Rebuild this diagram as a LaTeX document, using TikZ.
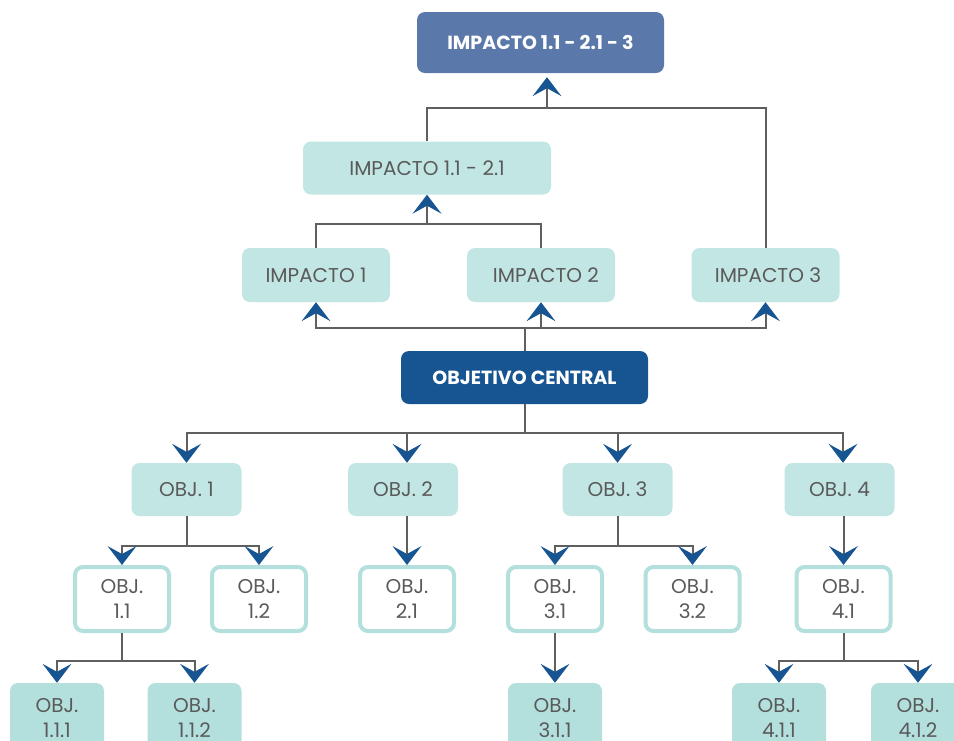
\documentclass[tikz,border=0pt]{standalone}
\usepackage{fontspec}
\setmainfont{Poppins}
\usetikzlibrary{arrows.meta,calc}
\definecolor{topblue}{HTML}{5B78AB}
\definecolor{darkblue}{HTML}{175592}
\definecolor{lightteal}{HTML}{C2E6E3}
\definecolor{leafteal}{HTML}{B3E0DD}
\definecolor{txtgray}{HTML}{5A5A5A}
\definecolor{linegray}{HTML}{5F5F5F}
\tikzset{
  box/.style={rectangle, rounded corners=8pt, inner sep=0pt, align=center,
    font=\fontsize{20}{25}\selectfont, text=txtgray},
  darkbox/.style={box, fill=#1, text=white, font=\fontsize{19}{24}\selectfont\bfseries},
  impbox/.style={box, fill=lightteal, minimum width=148pt, minimum height=54pt},
  objbox/.style={box, fill=lightteal, minimum width=110pt, minimum height=53pt},
  subbox/.style={box, fill=white, draw=leafteal, line width=4pt, minimum width=94pt, minimum height=64pt},
  leafbox/.style={box, fill=leafteal, minimum width=94pt, minimum height=69pt},
  link/.style={draw=linegray, line width=2pt},
  conn/.style={link, -{Stealth[length=19pt, width=29pt, inset=8pt, line width=0pt, color=darkblue]}},
}
\begin{document}
\begin{tikzpicture}[x=1pt, y=-1pt]
\useasboundingbox (0,0) rectangle (954,740);
\clip (0,0) rectangle (954,740);
% nodes
\node[darkbox=topblue, minimum width=247pt, minimum height=61pt] (top) at (540.5,42.5) {IMPACTO 1.1 - 2.1 - 3};
\node[impbox, minimum width=248pt, minimum height=53pt] (i11) at (427,168) {IMPACTO 1.1 - 2.1};
\node[impbox] (i1) at (316,275) {IMPACTO 1};
\node[impbox] (i2) at (541,275) {\hspace{10pt}IMPACTO 2};
\node[impbox] (i3) at (765.5,275) {\hspace{5pt}IMPACTO 3};
\node[darkbox=darkblue, minimum width=247pt, minimum height=53pt] (oc) at (524.5,377.5) {OBJETIVO CENTRAL};
\node[objbox] (o1) at (186.5,489.5) {OBJ. 1};
\node[objbox] (o2) at (403,489.5) {OBJ. 2};
\node[objbox] (o3) at (617.5,489.5) {OBJ. 3};
\node[objbox] (o4) at (839.5,489.5) {OBJ. 4};
\node[subbox] (o11) at (122,599) {OBJ.\\1.1};
\node[subbox] (o12) at (259,599) {OBJ.\\1.2};
\node[subbox] (o21) at (407,599) {OBJ.\\2.1};
\node[subbox] (o31) at (555,599) {OBJ.\\3.1};
\node[subbox] (o32) at (692.5,599) {OBJ.\\3.2};
\node[subbox] (o41) at (843.5,599) {OBJ.\\4.1};
\node[leafbox] (o111) at (57,717.5) {OBJ.\\1.1.1};
\node[leafbox] (o112) at (194.5,717.5) {OBJ.\\1.1.2};
\node[leafbox] (o311) at (555,717.5) {OBJ.\\3.1.1};
\node[leafbox] (o411) at (779,717.5) {OBJ.\\4.1.1};
\node[leafbox] (o412) at (918,717.5) {OBJ.\\4.1.2};
% junctions
\coordinate (j1) at (547,108);
\coordinate (j2) at (427,224);
\coordinate (jup) at (524.5,328);
\coordinate (jdn) at (524.5,433);
\coordinate (j4) at (186.5,546);
\coordinate (j5) at (617.5,546);
\coordinate (j6) at (122,661);
\coordinate (j7) at (843.5,661);
% upward connectors
\draw[link] (i11.north) |- (j1) -| (i3.north);
\draw[conn, shorten >=4pt] (j1) -- (j1 |- top.south);
\draw[link] (i1.north) |- (j2) -| (i2.north);
\draw[conn] (j2) -- (i11.south);
\draw[link] (oc.north) -- (jup);
\draw[conn] (jup) -| (i1.south);
\draw[conn] (jup) -| (i2.south);
\draw[conn] (jup) -| (i3.south);
% downward connectors
\draw[link] (oc.south) -- (jdn);
\draw[conn] (jdn) -| (o1.north);
\draw[conn] (jdn) -| ([xshift=4pt]o2.north);
\draw[conn] (jdn) -| (o3.north);
\draw[conn] (jdn) -| ([xshift=3.5pt]o4.north);
\draw[link] (o1.south) -- (j4);
\draw[conn] (j4) -| (o11.north);
\draw[conn] (j4) -| (o12.north);
\draw[conn] (o21.north |- o2.south) -- (o21.north);
\draw[link] (o3.south) -- (j5);
\draw[conn] (j5) -| (o31.north);
\draw[conn] (j5) -| (o32.north);
\draw[conn] (o41.north |- o4.south) -- (o41.north);
\draw[link] (o11.south) -- (j6);
\draw[conn] (j6) -| (o111.north);
\draw[conn] (j6) -| (o112.north);
\draw[conn] (o31.south) -- (o311.north);
\draw[link] (o41.south) -- (j7);
\draw[conn] (j7) -| (o411.north);
\draw[conn] (j7) -| (o412.north);
\end{tikzpicture}
\end{document}
